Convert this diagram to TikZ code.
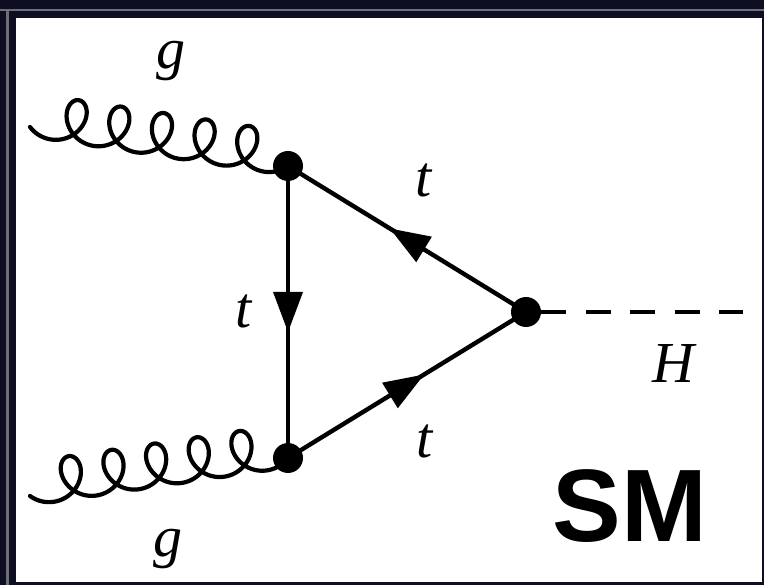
\documentclass[tikz,border=0pt]{standalone}
\usepackage{fontspec}
\setmainfont{Liberation Serif}
\newfontfamily\smfont{Liberation Sans}
\usetikzlibrary{calc,decorations.markings}
\definecolor{navy}{RGB}{14,14,34}
\definecolor{framegray}{RGB}{110,110,120}
\tikzset{
  x=1pt, y=-1pt,
  prop/.style={line width=4.4pt},
  vdot/.style={circle, fill=black, inner sep=0pt, minimum size=30pt},
  gluonline/.style={line width=4.2pt, line join=round, line cap=round},
  fermion/.style={prop, postaction={decorate}, decoration={markings,
    mark=at position 0.5 with {\fill[black] (20pt,0pt) -- (-20pt,15pt) -- (-20pt,-15pt) -- cycle;}}},
  scalar/.style={prop, dash pattern=on 25pt off 19.5pt},
  lbl/.style={inner sep=0pt, anchor=base, font=\fontsize{58}{58}\selectfont\itshape},
}
% gluon between two named points #1 -> #2, loops on the left of the direction
\newcommand{\gluonpath}[2]{%
  \draw[gluonline] let \p1=($(#2)-(#1)$), \n1={atan2(\y1,\x1)}, \n2={veclen(\x1,\y1)},
    \n3={(\n2-1.642*19.5)/33.34}, \n4={4.105*\n3+16.01} in
    [shift={(#1)}, rotate=\n1]
    plot[domain=-4.105:29.23, samples=400, smooth]
    ({(\n3*\x - 19.5*sin(\x r) + \n4)*1pt}, {(21.5*cos(\x r)+12.3)*1pt});}
\begin{document}
\begin{tikzpicture}
\useasboundingbox (0,0) rectangle (764,585);
\fill[navy] (0,0) rectangle (764,585);
\fill[framegray] (0,9) rectangle (764,11.5);
\fill[framegray] (6,9) rectangle (8.5,585);
\fill[white] (16,18) rectangle (762,582);

\node[vdot] (U) at (288,166) {};
\node[vdot] (L) at (288,458) {};
\node[vdot] (R) at (526,312) {};
\coordinate (g1) at (30,127);
\coordinate (g2) at (30,496);
\coordinate (Hend) at (743,312);

\gluonpath{g1}{U.center}
\gluonpath{g2}{L.center}
\draw[fermion] (R.center) -- (U.center);
\draw[fermion] (U.center) -- (L.center);
\draw[fermion] (L.center) -- (R.center);
\draw[scalar] (R.east) -- (Hend);

\node[lbl] (lg1) at (171,69) {g};
\node[lbl] (lg2) at (168,556) {g};
\node[lbl] (lt1) at (424,197) {t};
\node[lbl] (lt2) at (244,328) {t};
\node[lbl] (lt3) at (425,458) {t};
\node[lbl] (lH) at (673,383) {H};
\node[inner sep=0pt, anchor=base, font=\fontsize{103}{103}\selectfont\smfont\bfseries] (sm) at (630,542) {SM};
\end{tikzpicture}
\end{document}
